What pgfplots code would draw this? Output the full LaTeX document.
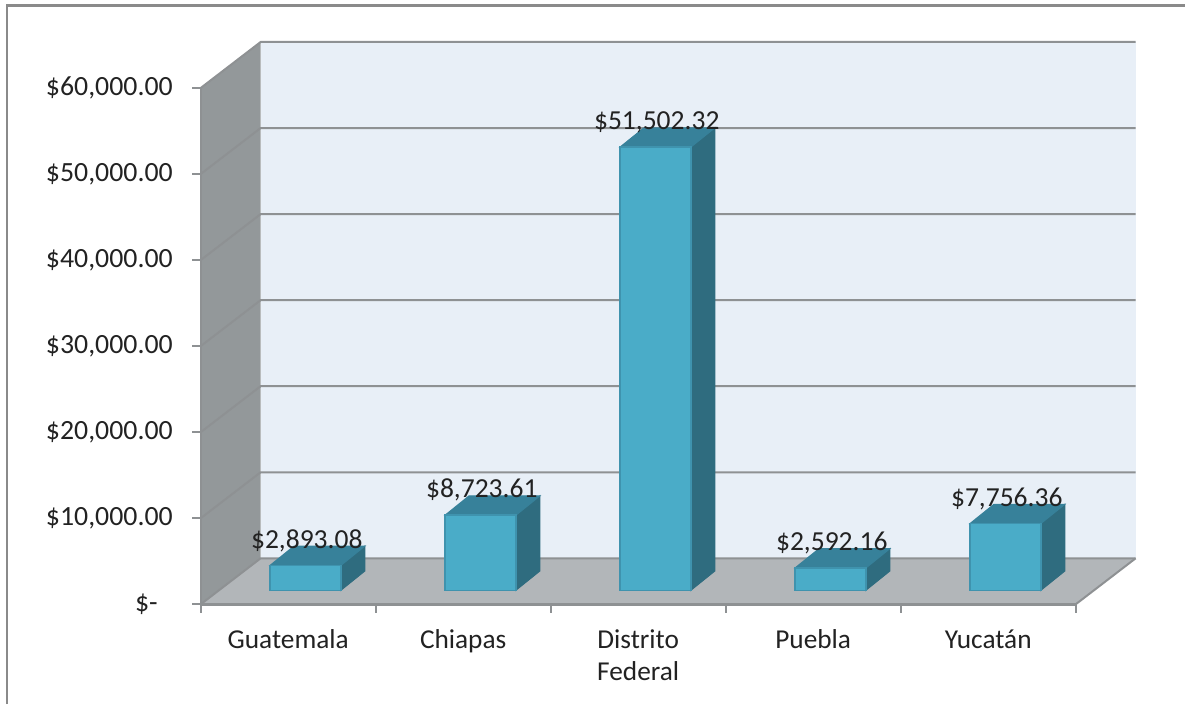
\documentclass[border=0pt]{standalone}
\usepackage{pgfplots}
\pgfplotsset{compat=1.18}
\usepackage{fontspec}
\setmainfont{Carlito}
\definecolor{wallback}{HTML}{E8EFF7}
\definecolor{wallside}{HTML}{93989A}
\definecolor{floorc}{HTML}{B2B6B9}
\definecolor{gridc}{HTML}{8E9193}
\definecolor{barfront}{HTML}{4AACC8}
\definecolor{bartop}{HTML}{37819A}
\definecolor{barside}{HTML}{2F6C7F}
\definecolor{baredge}{HTML}{3F93AE}
\definecolor{framec}{HTML}{8A8A8A}
\definecolor{inkc}{HTML}{222222}

% depth of the chart box and of a column, in axis units
\newcommand{\boxdx}{0.3425}
\newcommand{\boxdy}{5346}
\newcommand{\barw}{0.405}
\newcommand{\bardx}{0.137}
\newcommand{\bardy}{2243}
\newcommand{\barbase}{1627}

% one 3D column: left edge of the front face, value
\newcommand{\cube}[2]{%
  \edef\xl{#1}%
  \edef\xr{\fpeval{#1+\barw}}%
  \edef\xR{\fpeval{#1+\barw+\bardx}}%
  \edef\xL{\fpeval{#1+\bardx}}%
  \edef\yb{\barbase}%
  \edef\yB{\fpeval{\barbase+\bardy}}%
  \edef\yt{\fpeval{#2+\barbase}}%
  \edef\yT{\fpeval{#2+\barbase+\bardy}}%
  \addplot[fill=barside,draw=barside,line width=1pt] coordinates {(\xr,\yb) (\xR,\yB) (\xR,\yT) (\xr,\yt)} --cycle;
  \addplot[fill=bartop,draw=bartop,line width=1pt] coordinates {(\xl,\yt) (\xr,\yt) (\xR,\yT) (\xL,\yT)} --cycle;
  \addplot[fill=barfront,draw=baredge,line width=1.6pt] coordinates {(\xl,\yb) (\xr,\yb) (\xr,\yt) (\xl,\yt)} --cycle;
}

% one gridline running along the side wall and the back wall
\newcommand{\gridat}[1]{%
  \edef\gy{\fpeval{#1+\boxdy}}%
  \addplot[gridc,line width=2pt] coordinates {(0,#1) (\boxdx,\gy) (5.3425,\gy)};
}

\begin{document}
\begin{tikzpicture}[x=1pt,y=1pt]
\path[use as bounding box] (-200.7,-99.7) rectangle (984.3,604.3);
\draw[framec,line width=2.6pt] (-193.5,-99.7) -- (-193.5,598.6) -- (984.3,598.6);
\begin{axis}[
  scale only axis,
  width=875pt,
  height=516.3pt,
  xmin=0, xmax=5,
  ymin=0, ymax=60000,
  clip=false,
  axis on top,
  scaled y ticks=false,
  axis x line*=bottom,
  axis y line*=left,
  axis line style={-,gridc},
  x axis line style={line width=3pt},
  y axis line style={line width=2pt},
  tick style={gridc,line width=2pt},
  tick align=outside,
  major tick length=8.5pt,
  xtick={0,1,2,3,4,5},
  xticklabels={},
  extra x ticks={0.5,1.5,2.5,3.5,4.5},
  extra x tick labels={Guatemala,Chiapas,{Distrito\\Federal},Puebla,Yucatán},
  extra x tick style={major tick length=0pt,tick style={draw=none}},
  xticklabel style={font=\fontsize{27.3}{32}\selectfont,text=inkc,align=center,anchor=north,yshift=-22pt},
  ytick={0,10000,20000,30000,40000,50000,60000},
  yticklabels={\$-\hspace*{15pt},{\$10,000.00},{\$20,000.00},{\$30,000.00},{\$40,000.00},{\$50,000.00},{\$60,000.00}},
  yticklabel style={font=\fontsize{27.8}{30}\selectfont,text=inkc,anchor=east,xshift=-16pt},
  every node near coord/.style={font=\fontsize{27.5}{30}\selectfont,text=inkc,anchor=base,yshift=17.3pt,inner sep=0pt},
]
% chart box: back wall, side wall, floor
\addplot[fill=wallback,draw=none] coordinates {(0.3425,5346) (5.3425,5346) (5.3425,65346) (0.3425,65346)} --cycle;
\addplot[fill=wallside,draw=none] coordinates {(0,0) (0.3425,5346) (0.3425,65346) (0,60000)} --cycle;
\addplot[fill=floorc,draw=none] coordinates {(0,0) (5,0) (5.3425,5346) (0.3425,5346)} --cycle;
% gridlines
\gridat{0}
\gridat{10000}
\gridat{20000}
\gridat{30000}
\gridat{40000}
\gridat{50000}
\gridat{60000}
\addplot[gridc,line width=2pt] coordinates {(5,0) (5.3425,5346)};
% columns
\cube{0.396}{2893.08}
\cube{1.396}{8723.61}
\cube{2.396}{51502.32}
\cube{3.396}{2592.16}
\cube{4.396}{7756.36}
% value labels above the columns
\addplot[only marks,mark=none,point meta=explicit symbolic,nodes near coords,
  y filter/.expression={y+1627}]
  table[x=x,y=y,meta=label] {
x y label
0.606 2893.08 \$2,893.08
1.606 8723.61 \$8,723.61
2.606 51502.32 \$51,502.32
3.606 2592.16 \$2,592.16
4.606 7756.36 \$7,756.36
};
\end{axis}
\end{tikzpicture}
\end{document}
